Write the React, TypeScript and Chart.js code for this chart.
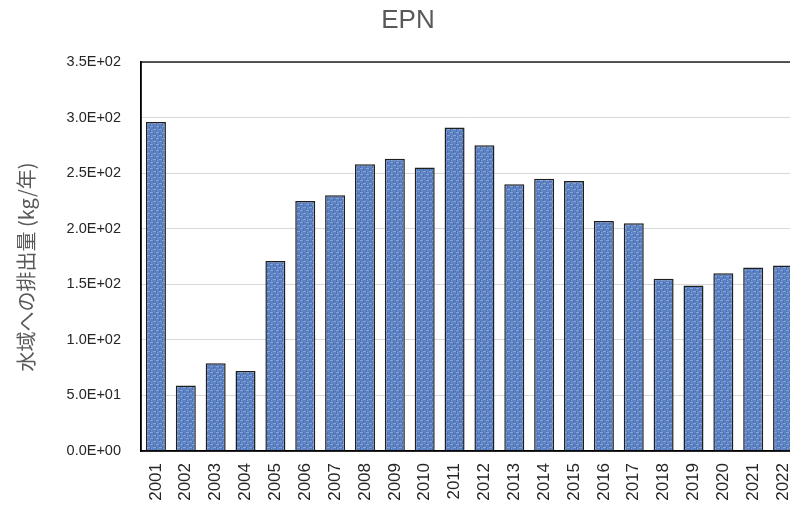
import React, { useEffect, useRef } from "react";
import { Chart, registerables } from "chart.js";

Chart.register(...registerables);

const categories = [
  "2001", "2002", "2003", "2004", "2005", "2006", "2007", "2008", "2009", "2010", "2011",
  "2012", "2013", "2014", "2015", "2016", "2017", "2018", "2019", "2020", "2021", "2022",
];
const emissions = [
  296, 59, 79, 72, 171, 225, 230, 258, 263, 255, 291,
  275, 240, 245, 243, 207, 205, 155, 149, 160, 165, 167,
];
const chartTitle = "EPN";
const yAxisTitle = "水域への排出量 (kg/年)";
const yMin = 0;
const yMax = 350;
const yStep = 50;

function formatExp(v: number): string {
  if (v === 0) return "0.0E+00";
  const exp = Math.floor(Math.log10(Math.abs(v)));
  const mant = v / Math.pow(10, exp);
  const sign = exp < 0 ? "-" : "+";
  return mant.toFixed(1) + "E" + sign + String(Math.abs(exp)).padStart(2, "0");
}

function makePattern(ctx: CanvasRenderingContext2D): CanvasPattern | string {
  const tile = document.createElement("canvas");
  tile.width = 6;
  tile.height = 6;
  const t = tile.getContext("2d");
  if (!t) return "#6286c6";
  t.fillStyle = "#5e83c4";
  t.fillRect(0, 0, 6, 6);
  t.fillStyle = "#86a3d6";
  t.fillRect(0, 0, 3, 1);
  t.fillRect(3, 3, 3, 1);
  t.fillRect(1, 4, 1, 1);
  t.fillStyle = "#4b70b2";
  t.fillRect(3, 0, 1, 3);
  t.fillRect(0, 3, 1, 3);
  t.fillRect(5, 1, 1, 1);
  return ctx.createPattern(tile, "repeat") || "#6286c6";
}

const frameBorder = {
  id: "frameBorder",
  afterDraw(chart: any) {
    const { ctx, chartArea } = chart;
    ctx.save();
    ctx.strokeStyle = "#000000";
    ctx.lineWidth = 1.3;
    ctx.strokeRect(chartArea.left, chartArea.top, chartArea.right - chartArea.left, chartArea.bottom - chartArea.top);
    ctx.restore();
  },
};

const yTitlePlugin = {
  id: "yTitlePlugin",
  afterDraw(chart: any) {
    const { ctx } = chart;
    ctx.save();
    ctx.translate(26.5, 267);
    ctx.rotate(-Math.PI / 2);
    ctx.fillStyle = "#595959";
    ctx.font = "20px 'Noto Sans CJK JP', sans-serif";
    ctx.textAlign = "center";
    ctx.textBaseline = "middle";
    ctx.fillText(yAxisTitle, 0, 0);
    ctx.restore();
  },
};

export default function App() {
  const ref = useRef<HTMLCanvasElement | null>(null);
  useEffect(() => {
    const canvas = ref.current;
    if (!canvas) return;
    const ctx = canvas.getContext("2d");
    if (!ctx) return;
    const pattern = makePattern(ctx);
    const chart = new Chart(ctx, {
      type: "bar",
      data: {
        labels: categories,
        datasets: [
          {
            data: emissions,
            backgroundColor: pattern as any,
            borderColor: "#1f1f1f",
            borderWidth: 1.5,
            barPercentage: 0.67,
            categoryPercentage: 1,
          },
        ],
      },
      options: {
        animation: false,
        responsive: false,
        devicePixelRatio: 1,
        layout: { padding: { left: 18, right: 22, top: 0, bottom: 0 } },
        plugins: {
          legend: { display: false },
          tooltip: { enabled: false },
          title: {
            display: true,
            text: chartTitle,
            color: "#595959",
            font: { family: "'Liberation Sans', sans-serif", size: 26, weight: "normal", lineHeight: 1.2 },
            padding: { top: 5.4, bottom: 25.4 },
          },
        },
        scales: {
          x: {
            afterFit(scale: any) {
              scale.height = 55;
            },
            grid: { display: false, drawTicks: false },
            border: { display: true, color: "#000000", width: 1.5 },
            ticks: {
              autoSkip: false,
              minRotation: 90,
              maxRotation: 90,
              padding: 12,
              color: "#262626",
              font: { family: "'Liberation Sans', sans-serif", size: 17 },
            },
          },
          y: {
            min: yMin,
            max: yMax,
            afterFit(scale: any) {
              scale.width = 123;
            },
            grid: { color: "#d9d9d9", lineWidth: 1, drawTicks: false },
            border: { display: true, color: "#000000", width: 1.5 },
            ticks: {
              stepSize: yStep,
              padding: 20,
              color: "#262626",
              font: { family: "'Liberation Sans', sans-serif", size: 14.5 },
              callback: (v: any) => formatExp(Number(v)),
            },
          },
        },
      },
      plugins: [frameBorder, yTitlePlugin],
    });
    return () => chart.destroy();
  }, []);
  return (
    <div style={{ position: "absolute", left: 0, top: 0, width: 790, height: 506, overflow: "hidden", background: "#ffffff" }}>
      <canvas ref={ref} width={820} height={506} style={{ display: "block", width: 820, height: 506 }} />
    </div>
  );
}
